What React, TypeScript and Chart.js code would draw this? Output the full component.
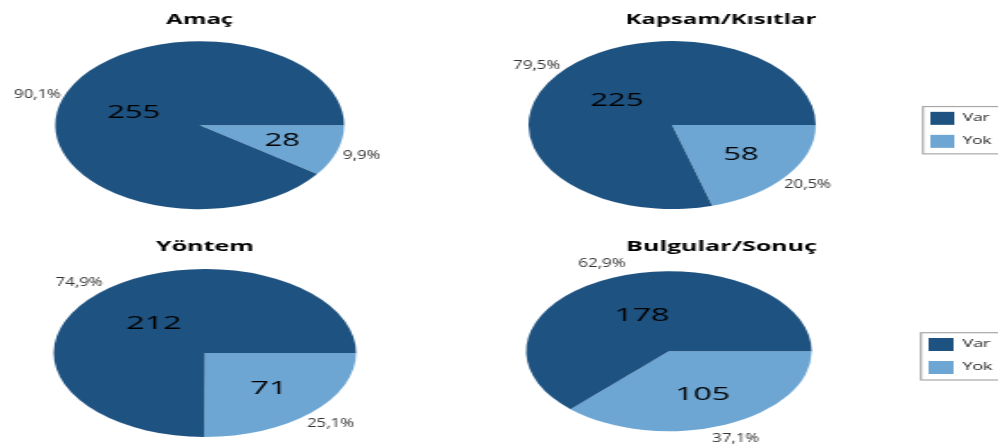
import React, { useEffect, useRef } from "react";
import { Chart, registerables } from "chart.js";
Chart.register(...registerables);

// ---- data ----
const categories = ["Var", "Yok"];
const titles = ["Amaç", "Kapsam/Kısıtlar", "Yöntem", "Bulgular/Sonuç"];
const varValues = [255, 225, 212, 178];
const yokValues = [28, 58, 71, 105];

// ---- styles / layout ----
const COLORS: Record<string, string> = { Var: "#1E5281", Yok: "#6DA6D3" };
const FONT = "'Open Sans', 'Noto Sans', sans-serif";
const INNER_FRAC: Record<string, number> = { Var: 0.48, Yok: 0.6 };
const PCT_GAP = 15;
const PCT_STRETCH = 1.4;
const TITLE_SIZE = 14;

const panels = [
  { cx: 199.5, cy: 125.5, r: 84, s: 1.72, titleMid: 20.5, areaW: 281, legendW: 0 },
  { cx: 672.5, cy: 125, r: 84, s: 1.71, titleMid: 20.3, areaW: 281.5, legendW: 57 },
  { cx: 204.5, cy: 352.5, r: 84, s: 1.8, titleMid: 247, areaW: 281, legendW: 0 },
  { cx: 669.2, cy: 351, r: 80, s: 1.785, titleMid: 247, areaW: 271, legendW: 59 },
];

const legendFrame = {
  id: "legendFrame",
  afterDraw(c: any) {
    const lg = c.legend;
    if (!lg || !lg.options.display || !lg.legendHitBoxes || !lg.legendHitBoxes.length) return;
    const hb = lg.legendHitBoxes;
    const first = hb[0];
    const last = hb[hb.length - 1];
    const ctx = c.ctx;
    ctx.save();
    ctx.strokeStyle = "#a8a8a8";
    ctx.lineWidth = 1.2;
    const l = first.left - 4.3;
    const t = first.top - 5.3;
    const b = last.top + last.height + 6;
    ctx.strokeRect(l, t, c.width + 20 - l, b - t);
    ctx.restore();
  },
};

function PiePanel({ index }: { index: number }) {
  const canvasRef = useRef<HTMLCanvasElement>(null);
  const boxRef = useRef<HTMLDivElement>(null);
  const p = panels[index];
  const hasLegend = p.legendW > 0;
  const titleH = TITLE_SIZE * 1.2;
  const extra = 10;
  const padBottom = 24;
  const top = p.titleMid - titleH / 2;
  const titlePadBottom = p.cy - p.r - extra - top - titleH;
  const w0 = Math.round(p.areaW + p.legendW);
  const h0 = Math.round(titleH + titlePadBottom + 2 * (p.r + extra) + padBottom);
  const initialLeft = p.cx - (p.s * p.areaW) / 2;

  useEffect(() => {
    const values = [yokValues[index], varValues[index]];
    const labels = [categories[1], categories[0]];
    const colors = labels.map((l) => COLORS[l]);
    const total = values.reduce((a, b) => a + b, 0);

    const legendWidth = {
      id: "legendWidth",
      beforeLayout(c: any) {
        const lg = c.legend;
        if (lg && hasLegend && !lg.__fixedWidth) {
          const orig = lg.fit;
          lg.fit = function () {
            orig.call(this);
            this.width = p.legendW;
          };
          lg.__fixedWidth = true;
        }
      },
    };

    const sliceLabels = {
      id: "sliceLabels",
      afterDatasetsDraw(c: any) {
        const ctx = c.ctx;
        const meta = c.getDatasetMeta(0);
        meta.data.forEach((arc: any, i: number) => {
          const { x, y, startAngle, endAngle, outerRadius } = arc.getProps(
            ["x", "y", "startAngle", "endAngle", "outerRadius"],
            true
          );
          const mid = (startAngle + endAngle) / 2;
          const f = INNER_FRAC[labels[i]];
          ctx.save();
          ctx.textAlign = "center";
          ctx.textBaseline = "middle";
          ctx.fillStyle = "#000";
          ctx.font = `18px ${FONT}`;
          ctx.fillText(
            String(values[i]),
            x + Math.cos(mid) * outerRadius * f,
            y + Math.sin(mid) * outerRadius * f
          );
          const pr = outerRadius + PCT_GAP;
          const pct = ((values[i] / total) * 100).toFixed(1).replace(".", ",") + "%";
          ctx.translate(x + Math.cos(mid) * pr, y + Math.sin(mid) * pr);
          ctx.scale(PCT_STRETCH / p.s, 1);
          ctx.font = `12px ${FONT}`;
          ctx.fillStyle = "#333";
          ctx.fillText(pct, 0, 0);
          ctx.restore();
        });
      },
    };

    const chart = new Chart(canvasRef.current as HTMLCanvasElement, {
      type: "pie",
      data: {
        labels,
        datasets: [
          { data: values, backgroundColor: colors, borderWidth: 0, radius: p.r } as any,
        ],
      },
      options: {
        animation: false,
        responsive: false,
        maintainAspectRatio: false,
        devicePixelRatio: 1,
        events: [],
        rotation: 90,
        layout: { padding: { top: 0, left: 0, right: 0, bottom: padBottom } },
        plugins: {
          title: {
            display: true,
            text: titles[index],
            color: "#000",
            font: { family: FONT, size: TITLE_SIZE, weight: "bold", lineHeight: 1.2 },
            padding: { top: 0, bottom: titlePadBottom },
          },
          legend: hasLegend
            ? {
                display: true,
                position: "right",
                fullSize: false,
                reverse: true,
                align: "center",
                labels: {
                  boxWidth: 14,
                  boxHeight: 13,
                  padding: 10,
                  color: "#222",
                  font: { family: FONT, size: 10 },
                },
                title: { display: true, text: "", padding: 0, font: { size: 8 } },
              }
            : { display: false },
          tooltip: { enabled: false },
        },
      } as any,
      plugins: [legendWidth, sliceLabels, legendFrame],
    });

    const ca = chart.chartArea;
    if (ca && boxRef.current) {
      const pcx = (ca.left + ca.right) / 2;
      boxRef.current.style.left = `${p.cx - p.s * pcx}px`;
    }
    return () => chart.destroy();
  }, []);

  return (
    <div
      ref={boxRef}
      style={{
        position: "absolute",
        left: initialLeft,
        top,
        width: w0,
        height: h0,
        transform: `scaleX(${p.s})`,
        transformOrigin: "0 0",
      }}
    >
      <canvas ref={canvasRef} width={w0} height={h0} style={{ width: w0, height: h0, display: "block" }} />
    </div>
  );
}

export default function App() {
  return (
    <div
      style={{
        position: "absolute",
        left: 0,
        top: 0,
        width: 998,
        height: 445,
        overflow: "hidden",
        background: "#fff",
      }}
    >
      {panels.map((_, i) => (
        <PiePanel key={i} index={i} />
      ))}
    </div>
  );
}
